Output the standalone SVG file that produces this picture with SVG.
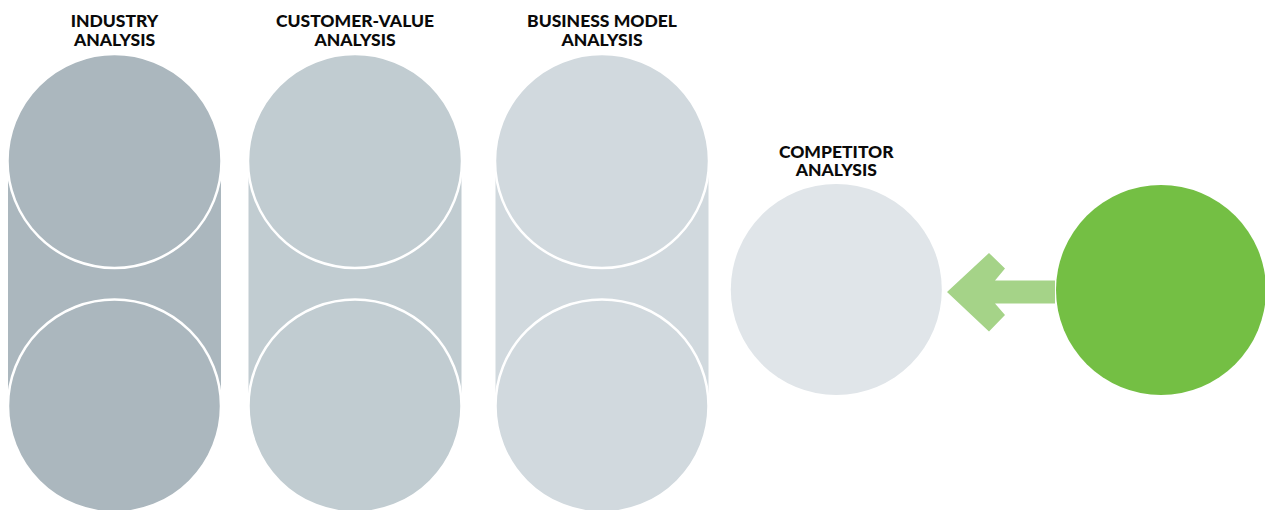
<svg xmlns="http://www.w3.org/2000/svg" width="1265" height="510" viewBox="0 0 1265 510">
<style>
.lbl{font-family:Lato,"Liberation Sans",Arial,sans-serif;font-weight:900;font-size:17.5px;fill:#0a0a0a;text-anchor:middle}
.ring{stroke:#fff;stroke-width:2.5}
.c1{fill:#ABB7BE}
.c2{fill:#C1CCD1}
.c3{fill:#D1D9DE}
</style>
<rect width="1265" height="510" fill="#fff"/>
<g id="industry">
<rect class="c1" x="8" y="161" width="213" height="245"/>
<circle class="c1 ring" cx="114.5" cy="161" r="107"/>
<circle class="c1 ring" cx="114.5" cy="406" r="106.5"/>
<text class="lbl" x="114.5" y="27">INDUSTRY</text>
<text class="lbl" x="114.5" y="46">ANALYSIS</text>
</g>
<g id="customer-value">
<rect class="c2" x="248.5" y="161" width="213" height="245"/>
<circle class="c2 ring" cx="355" cy="161" r="107"/>
<circle class="c2 ring" cx="355" cy="406" r="106.5"/>
<text class="lbl" x="355" y="27">CUSTOMER-VALUE</text>
<text class="lbl" x="355" y="46">ANALYSIS</text>
</g>
<g id="business-model">
<rect class="c3" x="495.5" y="161" width="213" height="245"/>
<circle class="c3 ring" cx="602" cy="161" r="107"/>
<circle class="c3 ring" cx="602" cy="406" r="106.5"/>
<text class="lbl" x="602" y="27">BUSINESS MODEL</text>
<text class="lbl" x="602" y="46">ANALYSIS</text>
</g>
<g id="competitor">
<circle cx="836.3" cy="289.5" r="105.5" fill="#E0E5E9"/>
<text class="lbl" x="836.3" y="157.5">COMPETITOR</text>
<text class="lbl" x="836.3" y="176">ANALYSIS</text>
</g>
<g id="source">
<circle cx="1161" cy="290" r="105" fill="#74BF44"/>
</g>
<g id="connectors">
<polygon points="947,292 989,253 1005,268.5 995,280.5 1055,280.5 1055,303.5 995,303.5 1005,315 989,331.5" fill="#A5D388"/>
</g>
</svg>
